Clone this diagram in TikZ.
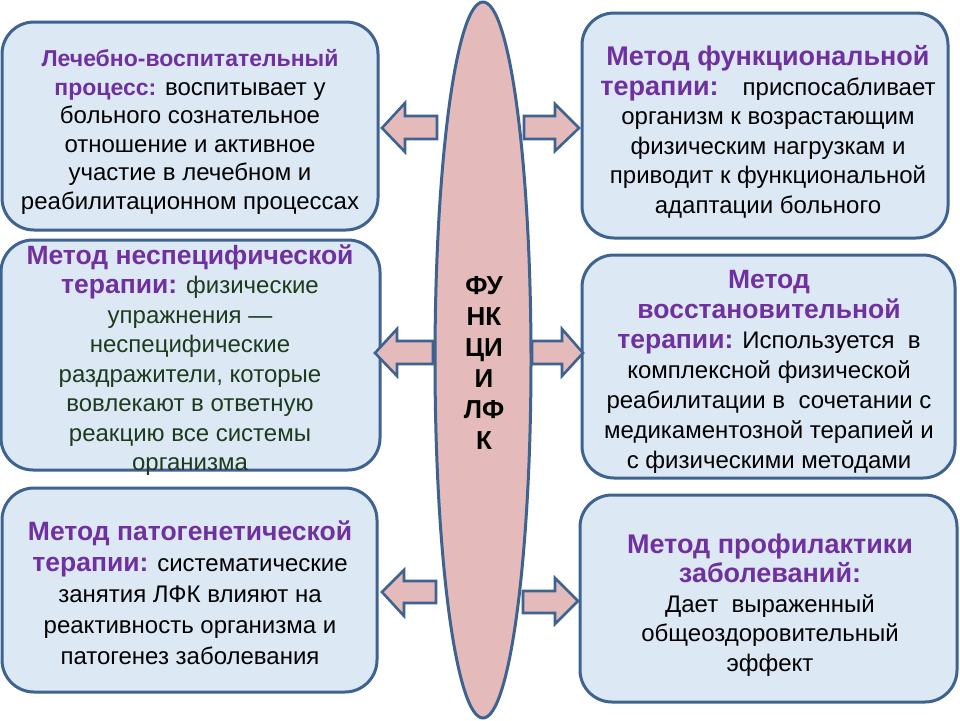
\documentclass[tikz,border=0pt]{standalone}
\usepackage{fontspec}
\setmainfont{Liberation Sans}
\usetikzlibrary{shapes.geometric}
\definecolor{boxfill}{HTML}{DCE9F5}
\definecolor{boxline}{HTML}{3E6390}
\definecolor{pinkfill}{HTML}{E4BBBA}
\definecolor{ttlpurple}{HTML}{7030A0}
\definecolor{grntext}{HTML}{1E3B1E}
\newcommand{\hdr}[2][26.5]{{\fontsize{#1}{29.5}\selectfont\textcolor{ttlpurple}{\textbf{#2}}}}
\newcommand{\grn}[1]{\textcolor{grntext}{#1}}
\begin{document}
\begin{tikzpicture}[x=1pt,y=-1pt,
  box/.style={draw=boxline, line width=3pt, fill=boxfill, rounded corners=32pt, rectangle, inner sep=0pt},
  txt/.style={align=center, font=\fontsize{24}{29.5}\selectfont, inner sep=0pt},
  barrow/.style={draw=boxline, line width=2.6pt, fill=pinkfill, line join=miter}]
\useasboundingbox (0,0) rectangle (960,720);
\fill[white] (0,0) rectangle (960,720);

% boxes
\node[box, minimum width=376pt, minimum height=208pt] (b1) at (190,126) {};
\node[box, minimum width=379pt, minimum height=230pt] (b2) at (190.5,355) {};
\node[box, minimum width=375pt, minimum height=204pt] (b3) at (189.5,590) {};
\node[box, minimum width=366pt, minimum height=225pt] (r1) at (765,125.5) {};
\node[box, minimum width=373pt, minimum height=223pt] (r2) at (768.5,366.5) {};
\node[box, minimum width=377pt, minimum height=207pt] (r3) at (768.5,598.5) {};

% central ellipse
\node[ellipse, draw=boxline, line width=3pt, fill=pinkfill, minimum width=96pt, minimum height=716pt, inner sep=0pt] (fl) at (483,360) {};

% block arrows
\draw[barrow] (382,128) -- (405,103) -- (405,116) -- (437,116) -- (437,139) -- (405,139) -- (405,152) -- cycle;
\draw[barrow] (375,353) -- (397,329) -- (397,341) -- (433,341) -- (433,364) -- (397,364) -- (397,376) -- cycle;
\draw[barrow] (382,592) -- (404,570) -- (404,581) -- (436,581) -- (436,603) -- (404,603) -- (404,616) -- cycle;
\draw[barrow] (579,128) -- (555,104) -- (555,116) -- (524,116) -- (524,139) -- (555,139) -- (555,151) -- cycle;
\draw[barrow] (583,353) -- (562,329) -- (562,341) -- (532,341) -- (532,364) -- (562,364) -- (562,376) -- cycle;
\draw[barrow] (578,601) -- (555,578) -- (555,591) -- (523,591) -- (523,613) -- (555,613) -- (555,624) -- cycle;

% texts
\node[txt, font=\fontsize{24}{28.6}\selectfont] (t1) at (190,132) {\hdr[23]{Лечебно-воспитательный}\\ \hdr[23]{процесс:} воспитывает у\\ больного сознательное\\ отношение и активное\\ участие в лечебном и\\ реабилитационном процессах};
\node[txt] (t2) at (190,360) {\hdr{Метод неспецифической}\\ \hdr{терапии:} \grn{физические}\\ \grn{упражнения —}\\ \grn{неспецифические}\\ \grn{раздражители, которые}\\ \grn{вовлекают в ответную}\\ \grn{реакцию все системы}\\ \grn{организма}};
\node[txt, font=\fontsize{24}{31}\selectfont] (t3) at (190,593) {\hdr{Метод патогенетической}\\ \hdr{терапии:} систематические\\ занятия ЛФК влияют на\\ реактивность организма и\\ патогенез заболевания};
\node[txt] (u1) at (768,132) {\hdr[27]{Метод функциональной}\\ \hdr[27]{терапии:}\quad приспосабливает\\ организм к возрастающим\\ физическим нагрузкам и\\ приводит к функциональной\\ адаптации больного};
\node[txt, font=\fontsize{24}{30}\selectfont] (u2) at (769,372) {\hdr[26.5]{Метод}\\ \hdr[26.5]{восстановительной}\\ \hdr[26.5]{терапии:} Используется~ в\\ комплексной физической\\ реабилитации в~ сочетании с\\ медикаментозной терапией и\\ с физическими методами};
\node[txt] (u3) at (770,605) {\hdr[27]{Метод профилактики}\\ \hdr[27]{заболеваний:}\\ Дает~ выраженный\\ общеоздоровительный\\ эффект};
\node[txt, font=\fontsize{26}{31}\selectfont\bfseries] (ft) at (484,363) {ФУ\\НК\\ЦИ\\И\\ЛФ\\К};
\end{tikzpicture}
\end{document}
